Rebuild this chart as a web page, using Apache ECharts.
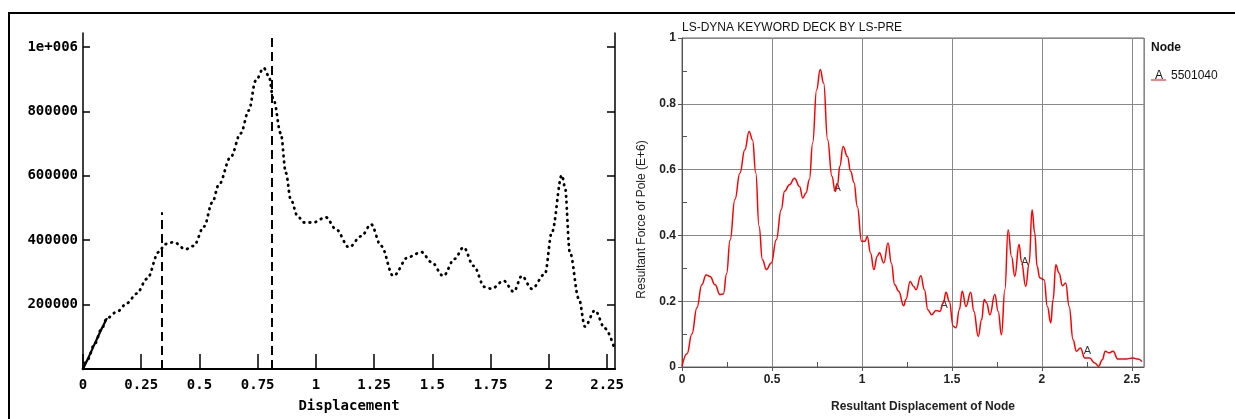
<!DOCTYPE html>
<html>
<head>
<meta charset="utf-8">
<script src="https://cdn.jsdelivr.net/npm/echarts@6/dist/echarts.min.js"></script>
<style>
  html, body { margin: 0; padding: 0; background: #fff; }
  .frame { position: absolute; left: 8px; top: 12px; width: 1240px; height: 420px;
           border-left: 2px solid #000; border-top: 2px solid #000; }
  #chart { position: absolute; left: 0; top: 0; width: 1235px; height: 419px; }
</style>
</head>
<body>
<div class="frame"></div>
<div id="chart"></div>
<script>
  // left plot: experiment (dotted curve)
  const leftX = [0, 0.02, 0.05, 0.08, 0.103, 0.146, 0.19, 0.23, 0.275, 0.325, 0.353, 0.39, 0.44, 0.475,
    0.52, 0.555, 0.583, 0.634, 0.677, 0.712, 0.741, 0.776, 0.797, 0.819, 0.849, 0.871, 0.892, 0.922,
    0.948, 0.987, 1.043, 1.086, 1.142, 1.194, 1.237, 1.28, 1.332, 1.397, 1.453, 1.496, 1.547, 1.595,
    1.634, 1.677, 1.724, 1.754, 1.806, 1.849, 1.884, 1.927, 1.983, 2.013, 2.056, 2.069, 2.09, 2.129,
    2.155, 2.198, 2.241, 2.284];
  const leftForce = [0, 30000, 78000, 125000, 158000, 178000, 205000, 234000, 280000, 363000, 388000,
    394000, 372000, 382000, 443000, 517000, 572000, 658000, 732000, 803000, 895000, 935000, 911000,
    834000, 732000, 609000, 526000, 474000, 455000, 455000, 471000, 434000, 378000, 412000, 449000,
    382000, 289000, 348000, 363000, 332000, 289000, 342000, 378000, 320000, 255000, 249000, 274000,
    240000, 289000, 249000, 295000, 425000, 602000, 566000, 363000, 218000, 132000, 182000, 126000, 58000];
  const solidCount = 5; // first part of the curve is drawn solid
  const dashX = [0.336, 0.81];
  const dashTop = [487000, 1028000];
  const leftXTicks = [0, 0.25, 0.5, 0.75, 1, 1.25, 1.5, 1.75, 2, 2.25];
  const leftYTicks = [200000, 400000, 600000, 800000, 1000000];
  const leftYLabels = ['200000', '400000', '600000', '800000', '1e+006'];

  // right plot: LS-DYNA simulation
  const rightX = [0, 0.028, 0.055, 0.083, 0.11, 0.134, 0.156, 0.184, 0.211, 0.23, 0.248, 0.267, 0.294,
    0.322, 0.349, 0.373, 0.392, 0.41, 0.428, 0.447, 0.469, 0.496, 0.524, 0.551, 0.57, 0.597, 0.625,
    0.653, 0.671, 0.689, 0.708, 0.726, 0.748, 0.768, 0.787, 0.809, 0.833, 0.851, 0.864, 0.877, 0.895,
    0.919, 0.937, 0.956, 0.974, 0.998, 1.017, 1.029, 1.048, 1.066, 1.085, 1.097, 1.121, 1.145, 1.163,
    1.182, 1.204, 1.232, 1.244, 1.268, 1.287, 1.3, 1.327, 1.347, 1.366, 1.387, 1.411, 1.433, 1.452,
    1.467, 1.485, 1.507, 1.522, 1.541, 1.557, 1.578, 1.604, 1.622, 1.646, 1.665, 1.679, 1.692, 1.711,
    1.738, 1.757, 1.775, 1.794, 1.812, 1.831, 1.849, 1.873, 1.886, 1.91, 1.929, 1.945, 1.96, 1.973,
    1.988, 2.012, 2.03, 2.049, 2.062, 2.077, 2.095, 2.114, 2.132, 2.151, 2.173, 2.191, 2.214, 2.238,
    2.265, 2.293, 2.315, 2.335, 2.352, 2.372, 2.395, 2.422, 2.459, 2.506, 2.533, 2.556];
  const rightForce = [0.002, 0.04, 0.1, 0.18, 0.25, 0.28, 0.275, 0.25, 0.22, 0.222, 0.284, 0.385, 0.509,
    0.59, 0.66, 0.716, 0.69, 0.59, 0.428, 0.326, 0.296, 0.316, 0.387, 0.478, 0.534, 0.554, 0.574,
    0.549, 0.514, 0.529, 0.57, 0.681, 0.843, 0.904, 0.863, 0.691, 0.58, 0.534, 0.554, 0.61, 0.67,
    0.64, 0.595, 0.56, 0.488, 0.382, 0.382, 0.397, 0.346, 0.296, 0.337, 0.347, 0.316, 0.377, 0.316,
    0.25, 0.23, 0.186, 0.205, 0.26, 0.245, 0.235, 0.277, 0.235, 0.174, 0.159, 0.172, 0.169, 0.195,
    0.227, 0.2, 0.124, 0.119, 0.174, 0.23, 0.184, 0.227, 0.169, 0.093, 0.144, 0.205, 0.195, 0.159,
    0.22, 0.169, 0.098, 0.235, 0.417, 0.336, 0.276, 0.372, 0.321, 0.245, 0.316, 0.478, 0.407, 0.306,
    0.271, 0.265, 0.184, 0.134, 0.205, 0.311, 0.286, 0.247, 0.255, 0.184, 0.083, 0.048, 0.058, 0.027,
    0.027, 0.012, 0.002, 0.022, 0.048, 0.043, 0.048, 0.024, 0.024, 0.027, 0.024, 0.017];
  const markX = [0.862, 1.457, 1.905, 2.252];
  const markY = [0.544, 0.189, 0.319, 0.048];
  const rightMinorX = [0.25, 0.75, 1.25, 1.75, 2.25];
  const rightMinorY = [0.1, 0.3, 0.5, 0.7, 0.9];

  const mono = 'DejaVu Sans Mono';
  const sans = 'Liberation Sans';

  const chart = echarts.init(document.getElementById('chart'));

  const leftData = leftX.map((x, i) => [x, leftForce[i]]);
  const rightData = rightX.map((x, i) => [x, rightForce[i]]);

  chart.setOption({
    animation: false,
    title: [
      { text: 'LS-DYNA KEYWORD DECK BY LS-PRE', left: 682, top: 22, padding: 0,
        textStyle: { fontFamily: sans, fontSize: 12, fontWeight: 'normal', color: '#111' } },
      { text: 'Node', left: 1151, top: 42, padding: 0,
        textStyle: { fontFamily: sans, fontSize: 12, fontWeight: 'bold', color: '#111' } },
      { text: 'A', left: 1155, top: 70, padding: 0,
        textStyle: { fontFamily: sans, fontSize: 12, fontWeight: 'normal', color: '#111' } }
    ],
    legend: {
      data: ['5501040'],
      left: 1151, top: 70, padding: 0,
      itemWidth: 15, itemHeight: 12,
      icon: 'path://M0,0h0.01v0.01h-0.01z M0,10.5h20v1.5h-20z',
      textStyle: { fontFamily: sans, fontSize: 12, color: '#111' }
    },
    grid: [
      { left: 83, top: 33, width: 532, height: 336 },
      { left: 682, top: 38, width: 462, height: 329, show: true, borderColor: '#666', borderWidth: 1 }
    ],
    xAxis: [
      {
        gridIndex: 0, type: 'value', min: 0, max: 2.284,
        name: 'Displacement', nameLocation: 'middle', nameGap: 30,
        nameTextStyle: { fontFamily: mono, fontWeight: 'bold', fontSize: 14, color: '#000' },
        axisLine: { lineStyle: { color: '#000', width: 2 } },
        axisTick: { inside: true, length: 15, customValues: leftXTicks, lineStyle: { color: '#000', width: 1.5 } },
        axisLabel: { customValues: leftXTicks, margin: 9, fontFamily: mono, fontWeight: 'bold', fontSize: 14, color: '#000' },
        splitLine: { show: false }
      },
      {
        gridIndex: 1, type: 'value', min: 0, max: 2.567, interval: 0.5,
        name: 'Resultant Displacement of Node', nameLocation: 'middle', nameGap: 34,
        nameTextStyle: { fontFamily: sans, fontSize: 12, fontWeight: 'bold', color: '#222', padding: [0, 0, 0, 20] },
        axisLine: { lineStyle: { color: '#555', width: 1 } },
        axisTick: { length: 4, lineStyle: { color: '#555' } },
        axisLabel: { margin: 7, fontFamily: sans, fontWeight: 'bold', fontSize: 12, color: '#222' },
        splitLine: { show: true, lineStyle: { color: '#888', width: 1 } }
      },
      {
        gridIndex: 1, type: 'value', position: 'bottom', min: 0, max: 2.567,
        axisLine: { show: false },
        axisTick: { inside: true, length: 5, customValues: rightMinorX, lineStyle: { color: '#555' } },
        axisLabel: { show: false },
        splitLine: { show: false }
      }
    ],
    yAxis: [
      {
        gridIndex: 0, type: 'value', min: 0, max: 1043500,
        axisLine: { show: true, lineStyle: { color: '#000', width: 1.5 } },
        axisTick: { show: true, inside: true, length: 7, customValues: leftYTicks, lineStyle: { color: '#000', width: 1.5 } },
        axisLabel: {
          customValues: leftYTicks, margin: 5,
          formatter: v => leftYLabels[leftYTicks.indexOf(v)] || '',
          fontFamily: mono, fontWeight: 'bold', fontSize: 14, color: '#000'
        },
        splitLine: { show: false }
      },
      {
        gridIndex: 0, type: 'value', position: 'right', min: 0, max: 1043500,
        axisLine: { show: true, lineStyle: { color: '#000', width: 1.5 } },
        axisTick: { show: true, inside: true, length: 8, customValues: leftYTicks, lineStyle: { color: '#000', width: 1.5 } },
        axisLabel: { show: false },
        splitLine: { show: false }
      },
      {
        gridIndex: 1, type: 'value', min: 0, max: 1, interval: 0.2,
        name: 'Resultant Force of Pole (E+6)', nameLocation: 'middle', nameGap: 34,
        nameTextStyle: { fontFamily: sans, fontSize: 12, color: '#222', padding: [0, 34, 0, 0] },
        axisLine: { show: true, lineStyle: { color: '#555', width: 1 } },
        axisTick: { show: true, length: 4, lineStyle: { color: '#555' } },
        axisLabel: { margin: 6, fontFamily: sans, fontWeight: 'bold', fontSize: 12, color: '#222' },
        splitLine: { show: true, lineStyle: { color: '#888', width: 1 } }
      },
      {
        gridIndex: 1, type: 'value', position: 'left', min: 0, max: 1,
        axisLine: { show: false },
        axisTick: { show: true, inside: true, length: 5, customValues: rightMinorY, lineStyle: { color: '#555' } },
        axisLabel: { show: false },
        splitLine: { show: false }
      }
    ],
    series: [
      {
        name: 'experiment', type: 'line', xAxisIndex: 0, yAxisIndex: 0,
        data: leftData, smooth: 0.35, smoothMonotone: 'x', symbol: 'none',
        lineStyle: { color: '#000', width: 2.8, type: [0.6, 5.4], cap: 'round' },
        markLine: {
          silent: true, symbol: 'none', label: { show: false },
          lineStyle: { color: '#000', width: 2, type: [9, 5] },
          data: dashX.map((x, i) => [{ coord: [x, 0] }, { coord: [x, dashTop[i]] }])
        }
      },
      {
        name: 'experiment-start', type: 'line', xAxisIndex: 0, yAxisIndex: 0,
        data: leftData.slice(0, solidCount), symbol: 'none',
        lineStyle: { color: '#000', width: 2.2 }
      },
      {
        name: '5501040', type: 'line', xAxisIndex: 1, yAxisIndex: 2,
        data: rightData, smooth: 0.45, smoothMonotone: 'x', symbol: 'none',
        itemStyle: { color: '#ff0000' },
        lineStyle: { color: '#ff0000', width: 1.5 }
      },
      {
        name: 'A', type: 'scatter', xAxisIndex: 1, yAxisIndex: 2,
        data: markX.map((x, i) => [x, markY[i]]), symbolSize: 1,
        itemStyle: { color: 'rgba(0,0,0,0)' },
        label: { show: true, position: 'inside', formatter: 'A', fontFamily: sans, fontSize: 11, color: '#000' }
      }
    ]
  });
</script>
</body>
</html>
